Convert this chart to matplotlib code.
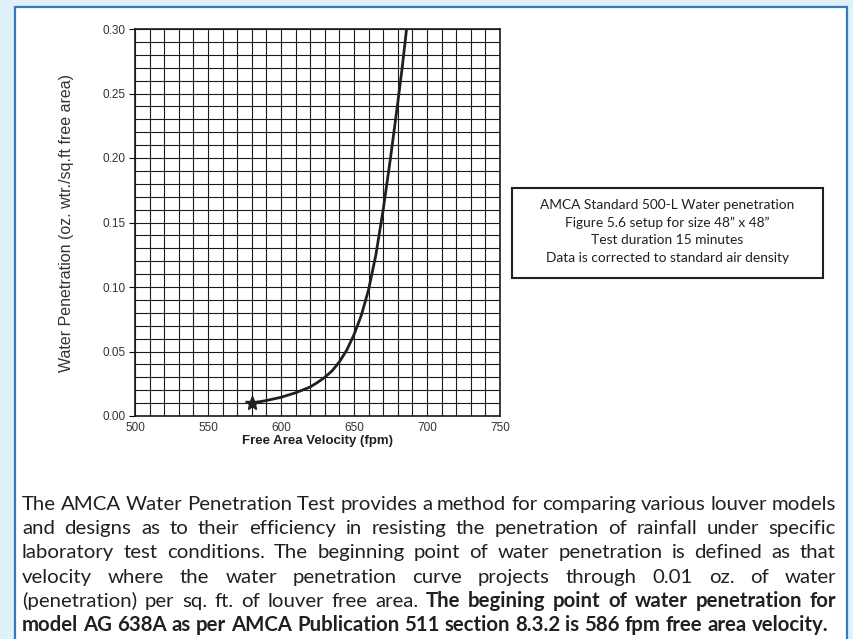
import numpy as np
import matplotlib
matplotlib.use("Agg")
import matplotlib.pyplot as plt
from matplotlib.patches import Rectangle

# curve
velocity = [580, 590, 600, 610, 620, 625, 630, 635, 640, 645, 650, 655, 660,
            665, 670, 675, 680, 683, 686]
penetration = [0.010, 0.012, 0.0145, 0.018, 0.0225, 0.026, 0.030, 0.035, 0.042,
               0.051, 0.063, 0.078, 0.098, 0.125, 0.160, 0.200, 0.243,
               0.270, 0.300]
start_point = (580, 0.010)

x_ticks = [500, 550, 600, 650, 700, 750]
y_ticks = [0.00, 0.05, 0.10, 0.15, 0.20, 0.25, 0.30]

box_lines = ["AMCA Standard 500-L Water penetration",
             "Figure 5.6 setup for size 48\u201d x 48\u201d",
             "Test duration 15 minutes",
             "Data is corrected to standard air density"]

para_regular = ("The AMCA Water Penetration Test provides a method for comparing various louver models "
                "and designs as to their efficiency in resisting the penetration of rainfall under specific "
                "laboratory test conditions. The beginning point of water penetration is defined as that "
                "velocity where the water penetration curve projects through 0.01 oz. of water "
                "(penetration) per sq. ft. of louver free area.")
para_bold = ("The begining point of water penetration for "
             "model AG 638A as per AMCA Publication 511 section 8.3.2 is 586 fpm free area velocity.")
# words per printed line
line_breaks = [13, 14, 13, 12, 15]

W, H = 854, 639
fig = plt.figure(figsize=(W / 100, H / 100), dpi=100)
fig.patch.set_facecolor('#dff1f9')

def fx(x):
    return x / W

def fy(y):
    return 1 - y / H

# white panel with blue frame
fig.add_artist(Rectangle((fx(15), fy(680)), fx(847) - fx(15), fy(7) - fy(680),
                         transform=fig.transFigure, facecolor='white',
                         edgecolor='#3a78c2', linewidth=1.6, zorder=0))

ax = fig.add_axes([fx(135), fy(416), fx(500) - fx(135), fy(29) - fy(416)])
ax.plot(velocity, penetration, color='#231f20', linewidth=2.0, zorder=3,
        solid_capstyle='round', solid_joinstyle='round')
ax.plot(*start_point, marker='*', markersize=10, color='#231f20', zorder=4)

ax.set_xlim(500, 750)
ax.set_ylim(0, 0.30)
ax.set_xticks(x_ticks)
ax.set_yticks(y_ticks)
ax.set_xticks(np.arange(500, 751, 10), minor=True)
ax.set_yticks(np.arange(0, 0.301, 0.01), minor=True)
ax.set_yticklabels([f"{v:.2f}" for v in y_ticks])
ax.grid(which='both', color='#1a1a1a', linewidth=0.8)
ax.set_axisbelow(True)
for s in ax.spines.values():
    s.set_linewidth(1.2)
    s.set_color('#1a1a1a')
ax.tick_params(axis='x', which='both', length=0, pad=4, labelsize=8.5,
               labelcolor='#333333')
ax.tick_params(axis='y', which='major', length=4, width=0.8, pad=3,
               labelsize=8.5, labelcolor='#333333')
ax.tick_params(axis='y', which='minor', length=0)
for lab in ax.get_xticklabels() + ax.get_yticklabels():
    lab.set_family('Liberation Sans')

ax.set_xlabel("Free Area Velocity (fpm)", fontsize=9.5, fontweight='bold',
              family='Liberation Sans', color='#231f20', labelpad=1)
ax.set_ylabel("Water Penetration (oz. wtr./sq.ft free area)", fontsize=11.5,
              family='Liberation Sans', color='#333333', labelpad=20)

# note box
fig.add_artist(Rectangle((fx(512), fy(278)), fx(823) - fx(512), fy(188) - fy(278),
                         transform=fig.transFigure, facecolor='white',
                         edgecolor='#231f20', linewidth=1.5))
for i, s in enumerate(box_lines):
    fig.text(fx(667.5), fy(205 + i * 17.7), s, ha='center', va='center',
             fontsize=9.9, family='Lato', color='#231f20')

# justified paragraph
renderer = fig.canvas.get_renderer()
PFONT = 'Lato'

def text_w(s, bold, size):
    t = fig.text(0, 0, s, fontsize=size, family=PFONT,
                 fontweight='bold' if bold else 'normal')
    w = t.get_window_extent(renderer=renderer).width
    t.remove()
    return w

words = [(w, False) for w in para_regular.split()] + [(w, True) for w in para_bold.split()]
lines = []
i = 0
for n in line_breaks:
    lines.append(words[i:i + n])
    i += n
lines.append(words[i:])

left, right = 22, 836
first = " ".join(w for w, _ in lines[0])
psize = 13 * (right - left) / text_w(first, False, 13)

for k, ln in enumerate(lines):
    widths = [text_w(w, b, psize) for w, b in ln]
    y = fy(510 + k * 24.2)
    gap = (right - left - sum(widths)) / (len(ln) - 1)
    if k == len(lines) - 1:
        natural = text_w("a a", True, psize) - text_w("aa", True, psize)
        gap = min(gap, natural)
    x = left
    for (w, b), wd in zip(ln, widths):
        fig.text(fx(x), y, w, fontsize=psize, family=PFONT, va='baseline',
                 fontweight='bold' if b else 'normal', color='#231f20')
        x += wd + gap

fig.savefig("out.png", dpi=100, facecolor=fig.get_facecolor())
